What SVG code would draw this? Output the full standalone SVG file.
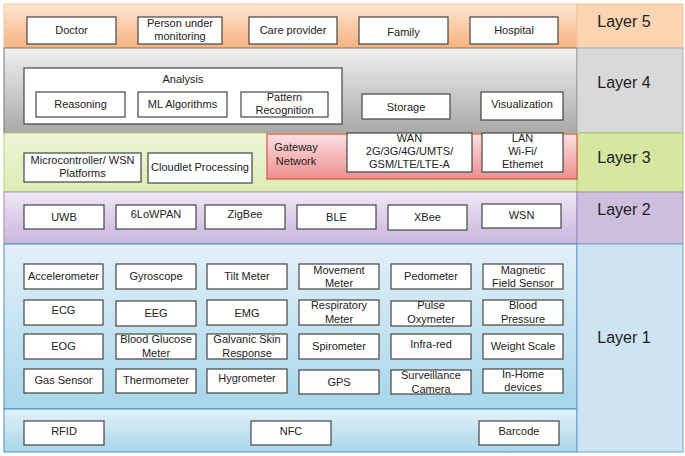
<svg xmlns="http://www.w3.org/2000/svg" width="685" height="456" viewBox="0 0 685 456">
<defs>
<linearGradient id="g5" x1="0" y1="0" x2="0" y2="1"><stop offset="0" stop-color="#fde6d2"/><stop offset="1" stop-color="#f7b27e"/></linearGradient>
<linearGradient id="g4" x1="0" y1="0" x2="0" y2="1"><stop offset="0" stop-color="#f0f0f0"/><stop offset="1" stop-color="#a9a9a9"/></linearGradient>
<linearGradient id="g3" x1="0" y1="0" x2="0" y2="1"><stop offset="0" stop-color="#eef5d8"/><stop offset="1" stop-color="#dcebb2"/></linearGradient>
<linearGradient id="gp" x1="0" y1="0" x2="0" y2="1"><stop offset="0" stop-color="#fbe0e0"/><stop offset="1" stop-color="#ef8f90"/></linearGradient>
<linearGradient id="g2" x1="0" y1="0" x2="0" y2="1"><stop offset="0" stop-color="#efe8f5"/><stop offset="1" stop-color="#c9b5dc"/></linearGradient>
<linearGradient id="g1" x1="0" y1="0" x2="0" y2="1"><stop offset="0" stop-color="#e3f1f8"/><stop offset="1" stop-color="#a8d6ea"/></linearGradient>
<linearGradient id="g0" x1="0" y1="0" x2="0" y2="1"><stop offset="0" stop-color="#e3f1f8"/><stop offset="1" stop-color="#a8d6ea"/></linearGradient>
</defs>
<style>
.b{fill:#fff;stroke:#444;stroke-width:1.2}
.t{font-family:"Liberation Sans",Arial,sans-serif;font-size:11px;fill:#222;text-anchor:middle}
.L{font-family:"Liberation Sans",Arial,sans-serif;font-size:16px;fill:#222;text-anchor:middle}
</style>
<rect width="685" height="456" fill="#fff"/>
<!-- bands -->
<g id="layer5-band"><rect x="4" y="4" width="573" height="44" fill="url(#g5)" stroke="#f2c39c" stroke-width="1"/><rect x="577" y="4" width="106" height="44" fill="#fbd4b1" stroke="#f2c39c"/><text class="L" x="624" y="27">Layer 5</text></g>
<g id="layer4-band"><rect x="4" y="48" width="573" height="85" fill="url(#g4)" stroke="#777" stroke-width="1"/><rect x="577" y="48" width="106" height="85" fill="#d9d9d9" stroke="#aaa"/><text class="L" x="624" y="88">Layer 4</text></g>
<g id="layer3-band"><rect x="4" y="133" width="573" height="59" fill="url(#g3)" stroke="#b8d47a" stroke-width="1"/><rect x="577" y="133" width="106" height="59" fill="#d5e7a0" stroke="#a9cc6a"/><text class="L" x="624" y="163">Layer 3</text></g>
<g id="layer2-band"><rect x="4" y="192" width="573" height="52" fill="url(#g2)" stroke="#a08cc0" stroke-width="1"/><rect x="577" y="192" width="106" height="52" fill="#cdbfdd" stroke="#9e8cc0"/><text class="L" x="624" y="215">Layer 2</text></g>
<g id="layer1-band"><rect x="4" y="244" width="573" height="165" fill="url(#g1)" stroke="#4d8fbf" stroke-width="1"/><rect x="4" y="409" width="573" height="43" fill="url(#g0)" stroke="#4d8fbf" stroke-width="1"/><rect x="577" y="244" width="106" height="208" fill="#cfe4f2" stroke="#6da4cf"/><text class="L" x="624" y="343">Layer 1</text></g>
<!-- layer 5 -->
<g id="doctor"><rect class="b" x="27" y="17" width="89" height="27"/><text class="t" x="71.5" y="34">Doctor</text></g>
<g id="person"><rect class="b" x="138" y="17" width="84" height="27"/><text class="t" x="180" y="27">Person under</text><text class="t" x="180" y="40">monitoring</text></g>
<g id="care"><rect class="b" x="249" y="17" width="88" height="27"/><text class="t" x="293" y="34">Care provider</text></g>
<g id="family"><rect class="b" x="359" y="17" width="89" height="27"/><text class="t" x="403.5" y="36">Family</text></g>
<g id="hospital"><rect class="b" x="470" y="17" width="88" height="27"/><text class="t" x="514" y="34">Hospital</text></g>
<!-- layer 4 -->
<g id="analysis"><rect class="b" x="24" y="68" width="318" height="56"/><text class="t" x="183" y="83">Analysis</text></g>
<g id="reasoning"><rect class="b" x="36" y="92" width="89" height="25"/><text class="t" x="80.5" y="108">Reasoning</text></g>
<g id="ml"><rect class="b" x="138" y="92" width="89" height="25"/><text class="t" x="182.5" y="108">ML Algorithms</text></g>
<g id="pattern"><rect class="b" x="241" y="92" width="87" height="25"/><text class="t" x="284.5" y="101">Pattern</text><text class="t" x="284.5" y="114">Recognition</text></g>
<g id="storage"><rect class="b" x="362" y="94" width="88" height="25"/><text class="t" x="406" y="111">Storage</text></g>
<g id="visualization"><rect class="b" x="481" y="92" width="82" height="28"/><text class="t" x="522" y="108">Visualization</text></g>
<!-- layer 3 -->
<g id="micro"><rect class="b" x="24" y="153" width="117" height="29"/><text class="t" x="82.5" y="164">Microcontroller/ WSN</text><text class="t" x="82.5" y="177">Platforms</text></g>
<g id="cloudlet"><rect class="b" x="148" y="153" width="104" height="30"/><text class="t" x="200" y="171">Cloudlet Processing</text></g>
<g id="gateway"><rect x="267" y="134" width="310" height="45" fill="url(#gp)" stroke="#d9534f" stroke-width="1.2"/><text class="t" x="296" y="151">Gateway</text><text class="t" x="296" y="165">Network</text></g>
<g id="wan"><rect class="b" x="347" y="133" width="125" height="39"/><text class="t" x="409.5" y="142">WAN</text><text class="t" x="409.5" y="155">2G/3G/4G/UMTS/</text><text class="t" x="409.5" y="168">GSM/LTE/LTE-A</text></g>
<g id="lan"><rect class="b" x="482" y="133" width="81" height="39"/><text class="t" x="522.5" y="142">LAN</text><text class="t" x="522.5" y="155">Wi-Fi/</text><text class="t" x="522.5" y="168">Ethemet</text></g>
<!-- layer 2 -->
<g id="uwb"><rect class="b" x="24" y="205" width="80" height="24"/><text class="t" x="64" y="221">UWB</text></g>
<g id="6lowpan"><rect class="b" x="116" y="205" width="80" height="24"/><text class="t" x="156" y="218">6LoWPAN</text></g>
<g id="zigbee"><rect class="b" x="205" y="205" width="80" height="24"/><text class="t" x="245" y="218">ZigBee</text></g>
<g id="ble"><rect class="b" x="297" y="205" width="79" height="24"/><text class="t" x="336.5" y="221">BLE</text></g>
<g id="xbee"><rect class="b" x="388" y="205" width="79" height="25"/><text class="t" x="427.5" y="221">XBee</text></g>
<g id="wsn"><rect class="b" x="482" y="204" width="79" height="24"/><text class="t" x="521.5" y="219">WSN</text></g>
<!-- layer 1 sensors -->
<g id="accelerometer"><rect class="b" x="24" y="264" width="79" height="25"/><text class="t" x="63.5" y="280">Accelerometer</text></g>
<g id="gyroscope"><rect class="b" x="116" y="264" width="80" height="25"/><text class="t" x="156" y="280">Gyroscope</text></g>
<g id="tilt"><rect class="b" x="207" y="264" width="80" height="25"/><text class="t" x="247" y="280">Tilt Meter</text></g>
<g id="movement"><rect class="b" x="299" y="264" width="80" height="25"/><text class="t" x="339" y="274">Movement</text><text class="t" x="339" y="287">Meter</text></g>
<g id="pedometer"><rect class="b" x="391" y="264" width="80" height="25"/><text class="t" x="431" y="280">Pedometer</text></g>
<g id="magnetic"><rect class="b" x="483" y="264" width="80" height="25"/><text class="t" x="523" y="274">Magnetic</text><text class="t" x="523" y="287">Field Sensor</text></g>
<g id="ecg"><rect class="b" x="24" y="300" width="79" height="25"/><text class="t" x="63.5" y="314">ECG</text></g>
<g id="eeg"><rect class="b" x="116" y="301" width="80" height="25"/><text class="t" x="156" y="317">EEG</text></g>
<g id="emg"><rect class="b" x="207" y="300" width="80" height="25"/><text class="t" x="247" y="317">EMG</text></g>
<g id="respiratory"><rect class="b" x="299" y="300" width="80" height="25"/><text class="t" x="339" y="309">Respiratory</text><text class="t" x="339" y="323">Meter</text></g>
<g id="pulse"><rect class="b" x="391" y="301" width="80" height="25"/><text class="t" x="431" y="309">Pulse</text><text class="t" x="431" y="323">Oxymeter</text></g>
<g id="blood-pressure"><rect class="b" x="483" y="300" width="80" height="25"/><text class="t" x="523" y="309">Blood</text><text class="t" x="523" y="323">Pressure</text></g>
<g id="eog"><rect class="b" x="24" y="334" width="79" height="25"/><text class="t" x="63.5" y="350">EOG</text></g>
<g id="glucose"><rect class="b" x="116" y="334" width="80" height="25"/><text class="t" x="156" y="343">Blood Glucose</text><text class="t" x="156" y="357">Meter</text></g>
<g id="galvanic"><rect class="b" x="207" y="334" width="80" height="25"/><text class="t" x="247" y="343">Galvanic Skin</text><text class="t" x="247" y="357">Response</text></g>
<g id="spirometer"><rect class="b" x="299" y="334" width="80" height="25"/><text class="t" x="339" y="350">Spirometer</text></g>
<g id="infrared"><rect class="b" x="391" y="334" width="80" height="25"/><text class="t" x="431" y="348">Infra-red</text></g>
<g id="weight"><rect class="b" x="483" y="334" width="80" height="25"/><text class="t" x="523" y="350">Weight Scale</text></g>
<g id="gas"><rect class="b" x="24" y="369" width="79" height="24"/><text class="t" x="63.5" y="384">Gas Sensor</text></g>
<g id="thermometer"><rect class="b" x="116" y="369" width="80" height="24"/><text class="t" x="156" y="384">Thermometer</text></g>
<g id="hygrometer"><rect class="b" x="207" y="369" width="80" height="24"/><text class="t" x="247" y="382">Hygrometer</text></g>
<g id="gps"><rect class="b" x="299" y="370" width="80" height="24"/><text class="t" x="339" y="386">GPS</text></g>
<g id="camera"><rect class="b" x="391" y="370" width="80" height="24"/><text class="t" x="431" y="379">Surveillance</text><text class="t" x="431" y="393">Camera</text></g>
<g id="inhome"><rect class="b" x="483" y="369" width="80" height="24"/><text class="t" x="523" y="378">In-Home</text><text class="t" x="523" y="391">devices</text></g>
<g id="rfid"><rect class="b" x="24" y="421" width="80" height="24"/><text class="t" x="64" y="435">RFID</text></g>
<g id="nfc"><rect class="b" x="251" y="421" width="80" height="24"/><text class="t" x="291" y="435">NFC</text></g>
<g id="barcode"><rect class="b" x="479" y="421" width="80" height="24"/><text class="t" x="519" y="435">Barcode</text></g>
</svg>
